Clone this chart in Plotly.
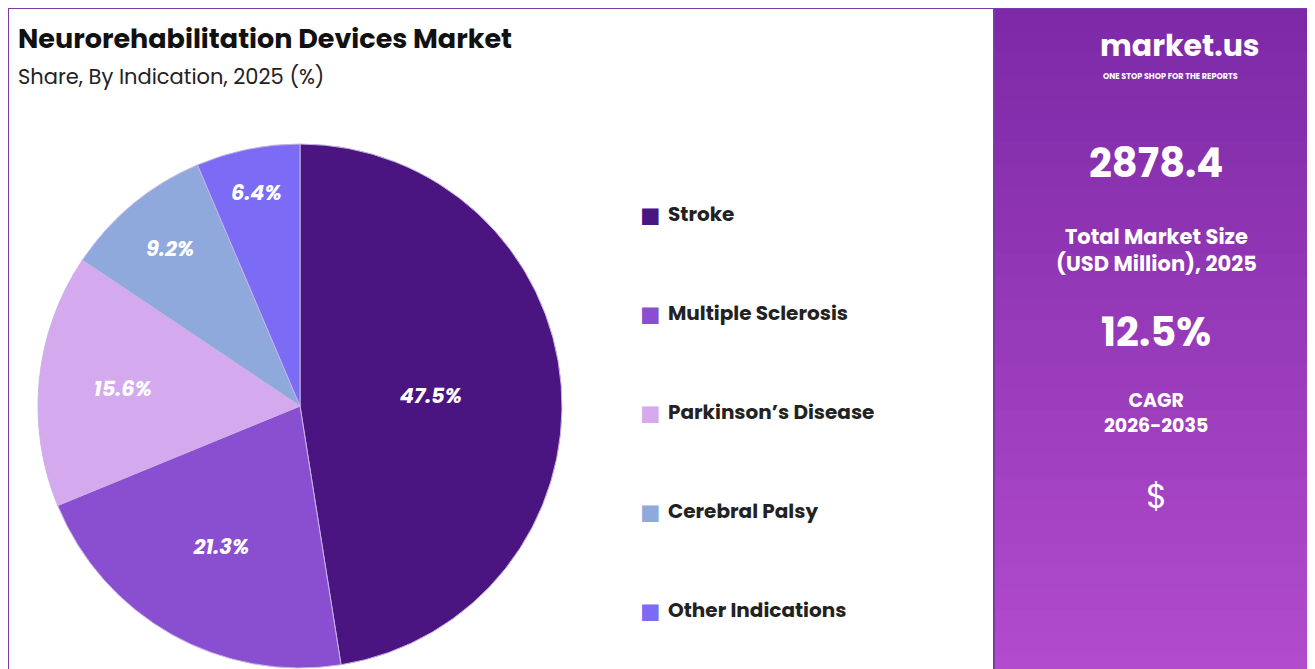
import plotly.graph_objects as go

# Data
labels = ["Stroke", "Multiple Sclerosis", "Parkinson\u2019s Disease", "Cerebral Palsy", "Other Indications"]
shares = [47.5, 21.3, 15.6, 9.2, 6.4]
colors = ["#4A1580", "#8A4FD0", "#D4A9EE", "#8FA9DC", "#7B6BF5"]

market_size = "2878.4"
cagr = "12.5%"

W, H = 1315, 669

fig = go.Figure(go.Pie(
    labels=labels, values=shares, sort=False, direction="clockwise", rotation=0,
    marker=dict(colors=colors, line=dict(color="#c9b3e6", width=1)),
    texttemplate="<i><b>%{value}%</b></i>", textposition="inside", insidetextorientation="horizontal",
    textfont=dict(family="Poppins, Lato, sans-serif", size=21, color="white"),
    domain=dict(x=[30 / W, 554 / W], y=[1 - 662 / H, 1 - 134 / H]),
    showlegend=False, hoverinfo="label+percent",
))

shapes = []
# right panel gradient
n = 30
x0 = 986 / W
for i in range(n):
    t = i / (n - 1)
    r = int(0x7E + (0xB2 - 0x7E) * t)
    g = int(0x2A + (0x4C - 0x2A) * t)
    b = int(0xA8 + (0xCC - 0xA8) * t)
    shapes.append(dict(type="rect", xref="paper", yref="paper", x0=x0, x1=1,
                       y0=1 - (i + 1) / n - 0.004, y1=1 - i / n,
                       fillcolor=f"rgb({r},{g},{b})", line=dict(width=0), layer="below"))
shapes.append(dict(type="rect", xref="paper", yref="paper", x0=0, x1=1, y0=0, y1=1,
                   line=dict(color="#7a3aa8", width=2)))
shapes.append(dict(type="rect", xref="paper", yref="paper", x0=x0, x1=1, y0=0, y1=1,
                   line=dict(color="#7a3aa8", width=2)))

font = "Poppins, Lato, sans-serif"
annotations = [
    dict(text="<b>Neurorehabilitation Devices Market</b>", x=8 / W, y=1 - 30 / H, xanchor="left",
         yanchor="middle", font=dict(family=font, size=27, color="#111")),
    dict(text="Share, By Indication, 2025 (%)", x=8 / W, y=1 - 68 / H, xanchor="left",
         yanchor="middle", font=dict(family=font, size=21, color="#222")),
]
for i, lab in enumerate(labels):
    yy = 1 - (206 + 99 * i) / H
    annotations.append(dict(text="\u25A0", x=630 / W, y=yy, xanchor="left", yanchor="middle",
                            font=dict(size=34, color=colors[i])))
    annotations.append(dict(text=f"<b>{lab}</b>", x=658 / W, y=yy, xanchor="left", yanchor="middle",
                            font=dict(family=font, size=20, color="#222")))

cx = 1148 / W
annotations += [
    dict(text="<b>market.us</b>", x=1090 / W, y=1 - 38 / H, xanchor="left", yanchor="middle",
         font=dict(family=font, size=30, color="white")),
    dict(text="<b>ONE STOP SHOP FOR THE REPORTS</b>", x=1093 / W, y=1 - 68 / H, xanchor="left",
         yanchor="middle", font=dict(family=font, size=8, color="white")),
    dict(text=f"<b>{market_size}</b>", x=cx, y=1 - 155 / H, yanchor="middle",
         font=dict(family=font, size=40, color="white")),
    dict(text="<b>Total Market Size<br>(USD Million), 2025</b>", x=cx, y=1 - 242 / H, yanchor="middle",
         font=dict(family=font, size=21, color="white")),
    dict(text=f"<b>{cagr}</b>", x=cx, y=1 - 324 / H, yanchor="middle",
         font=dict(family=font, size=40, color="white")),
    dict(text="<b>CAGR<br>2026-2035</b>", x=cx, y=1 - 405 / H, yanchor="middle",
         font=dict(family=font, size=19, color="white")),
    dict(text="$", x=cx, y=1 - 488 / H, yanchor="middle",
         font=dict(family=font, size=34, color="white")),
]
for a in annotations:
    a.setdefault("xref", "paper")
    a.setdefault("yref", "paper")
    a.setdefault("showarrow", False)
    a.setdefault("xanchor", "center")

fig.update_layout(
    width=W, height=H, margin=dict(l=0, r=0, t=0, b=0),
    paper_bgcolor="white", plot_bgcolor="white",
    shapes=shapes, annotations=annotations,
)

fig.write_html("out.html")
